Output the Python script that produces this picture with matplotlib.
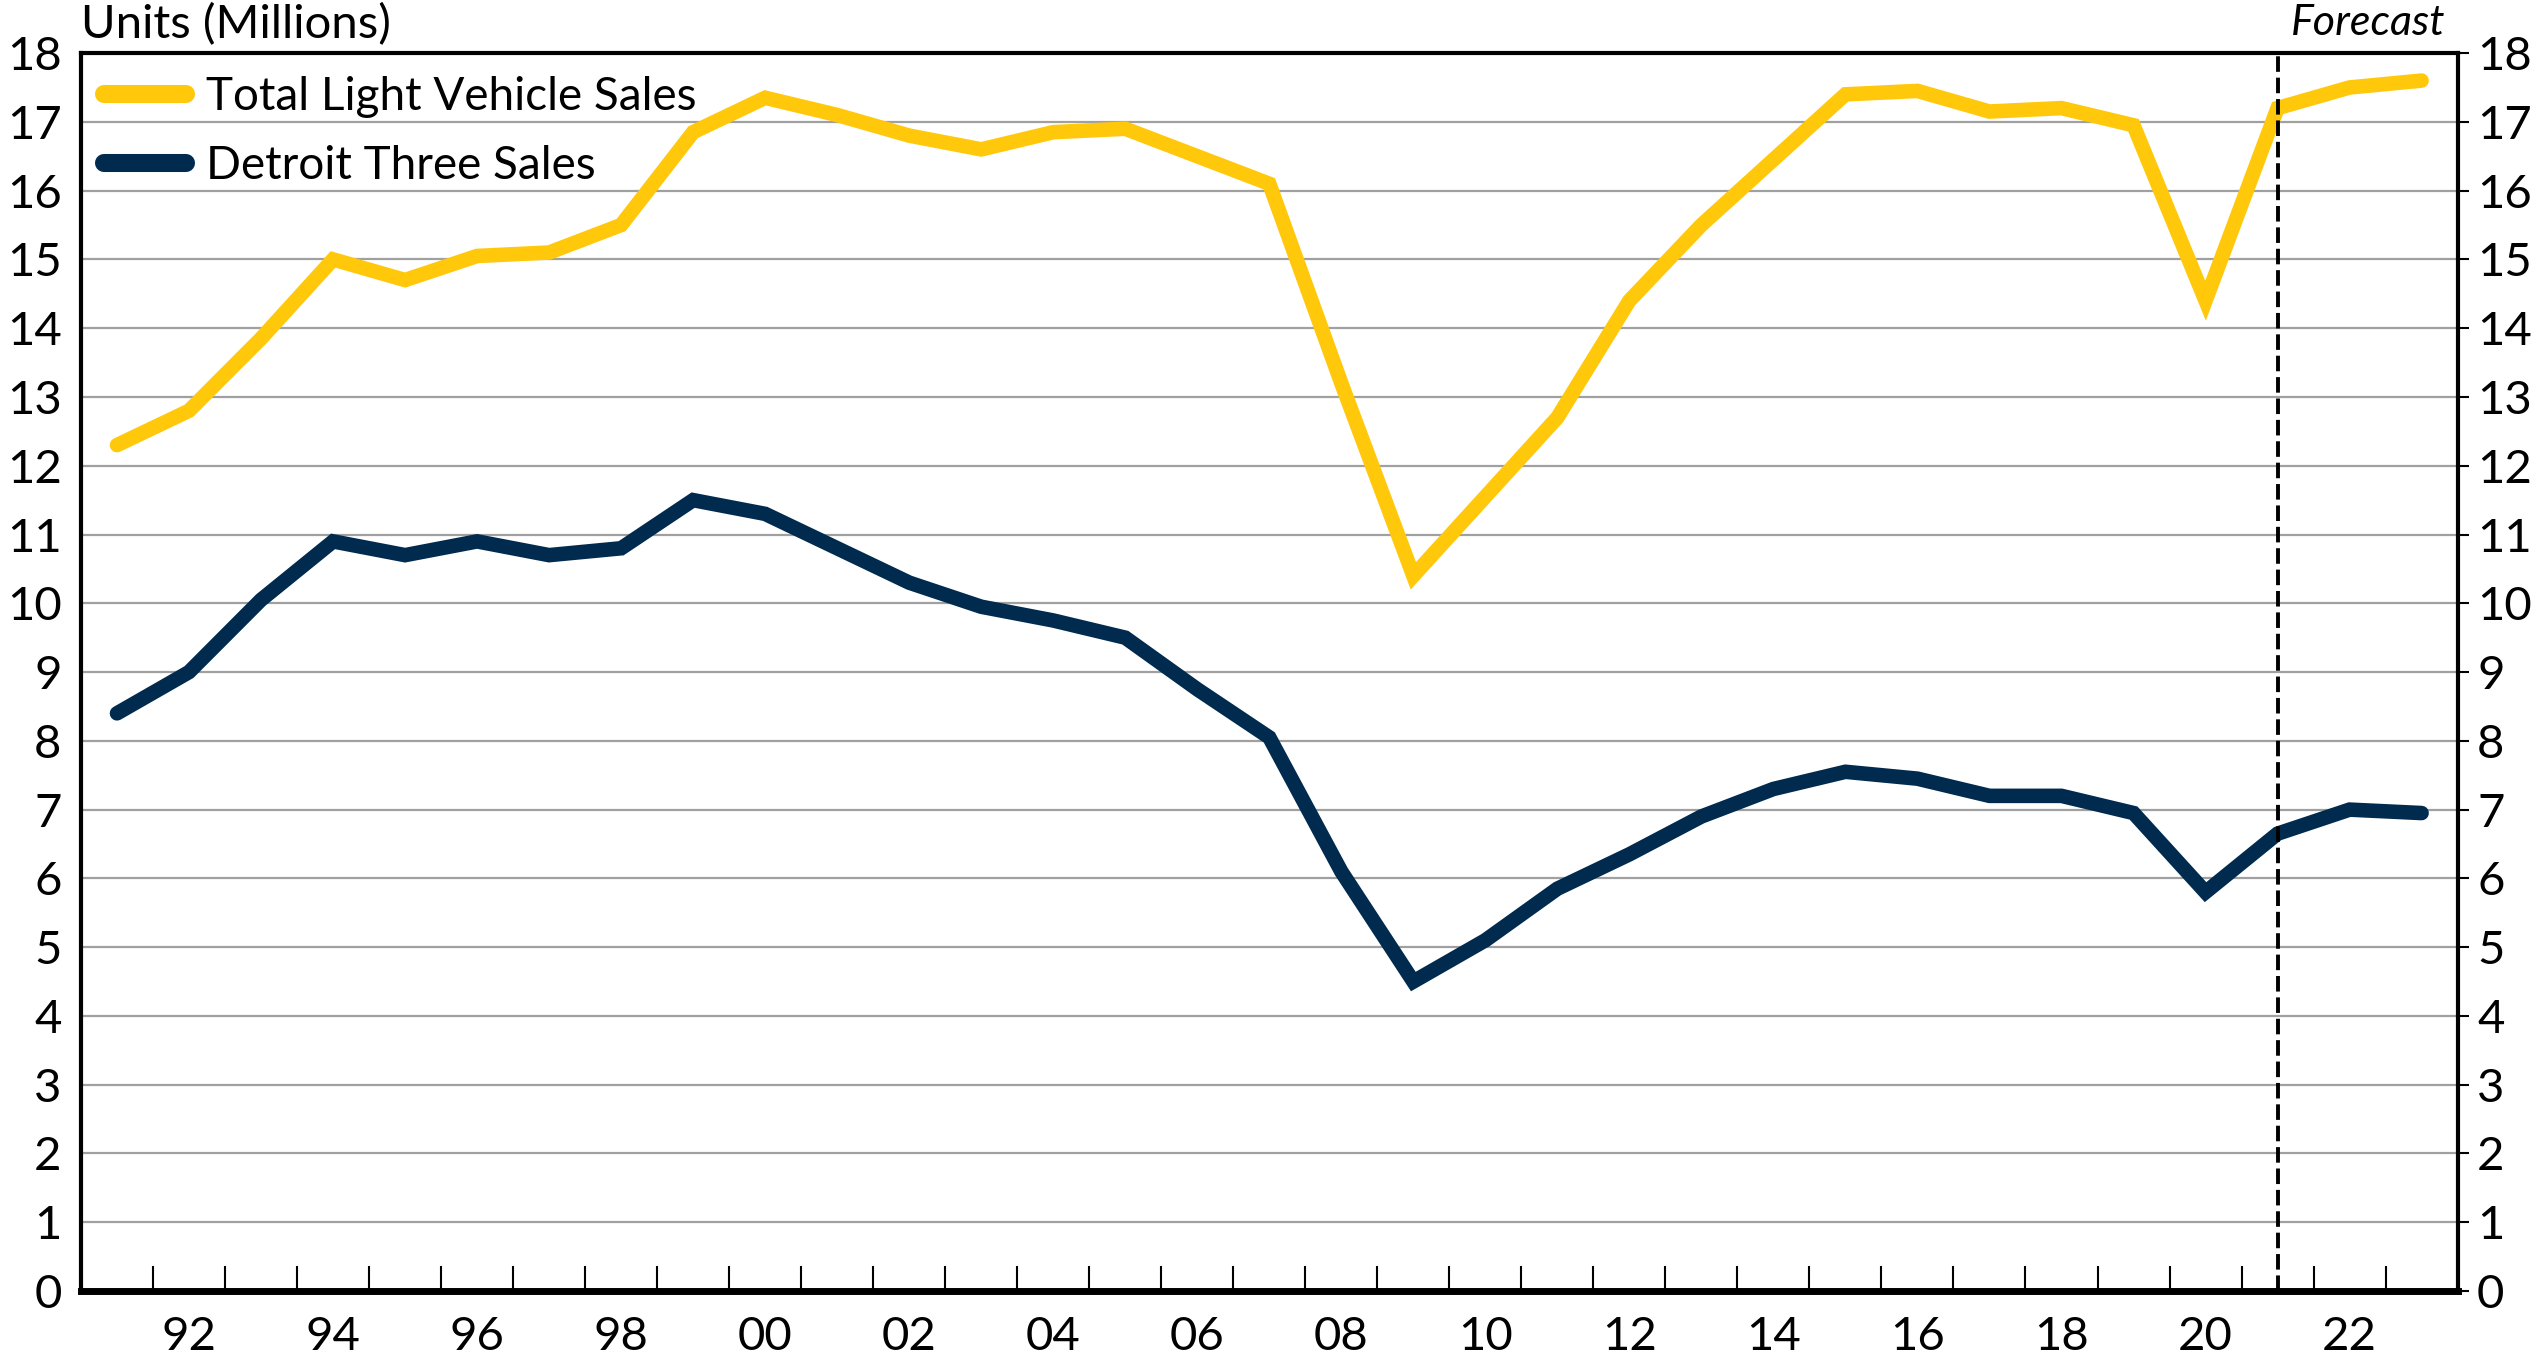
import matplotlib
matplotlib.use("Agg")
import matplotlib.pyplot as plt
from matplotlib.ticker import FixedLocator, NullFormatter

years = list(range(1991, 2024))
total_sales = [12.3, 12.8, 13.85, 15.0, 14.7, 15.05, 15.1, 15.5, 16.85, 17.35,
               17.1, 16.8, 16.6, 16.85, 16.9, 16.5, 16.1, 13.2, 10.4, 11.55,
               12.7, 14.4, 15.5, 16.45, 17.4, 17.45, 17.15, 17.2, 16.95, 14.4,
               17.2, 17.5, 17.6]
detroit_sales = [8.4, 9.0, 10.05, 10.9, 10.7, 10.9, 10.7, 10.8, 11.5, 11.3,
                 10.8, 10.3, 9.95, 9.75, 9.5, 8.75, 8.05, 6.1, 4.5, 5.1,
                 5.85, 6.35, 6.9, 7.3, 7.55, 7.45, 7.2, 7.2, 6.95, 5.8,
                 6.65, 7.0, 6.95]
year_labels = ["92", "94", "96", "98", "00", "02", "04", "06", "08", "10",
               "12", "14", "16", "18", "20", "22"]
label_years = list(range(1992, 2023, 2))
y_ticks = list(range(0, 19))
forecast_year = 2021

YELLOW = "#FFC80A"
NAVY = "#002A4E"
FONT = ["Lato", "DejaVu Sans"]
plt.rcParams["font.family"] = FONT

fig = plt.figure(figsize=(25.31, 13.61), dpi=100)
ax = fig.add_axes([0.032, 0.0514, 0.939, 0.9096])

ax.plot(years, total_sales, color=YELLOW, lw=10.5, solid_capstyle="round",
        solid_joinstyle="miter", label="Total Light Vehicle Sales", zorder=3)
ax.plot(years, detroit_sales, color=NAVY, lw=10.5, solid_capstyle="round",
        solid_joinstyle="miter", label="Detroit Three Sales", zorder=3)

ax.axvline(forecast_year, color="black", lw=2.8, ls=(0, (4, 1.5)), zorder=4)

ax.set_xlim(years[0] - 0.5, years[-1] + 0.5)
ax.set_ylim(0, 18)

ax.set_yticks(y_ticks)
ax.yaxis.grid(True, color="#A0A0A0", lw=1.6, zorder=0)
ax.set_axisbelow(True)
ax.tick_params(axis="y", which="both", left=False, right=True, labelleft=True,
               labelright=True, labelsize=34, length=8, width=1.5, direction="out",
               pad=6)

# x axis: ticks at category boundaries, labels at category centers
ax.set_xticks(label_years)
ax.set_xticklabels(year_labels)
ax.tick_params(axis="x", which="major", length=0, labelsize=34, pad=18)
ax.xaxis.set_minor_locator(FixedLocator([y + 0.5 for y in years[:-1]]))
ax.xaxis.set_minor_formatter(NullFormatter())
ax.tick_params(axis="x", which="minor", direction="in", length=18, width=1.5,
               bottom=True, top=False)

for side in ["left", "right", "top"]:
    ax.spines[side].set_linewidth(3)
ax.spines["bottom"].set_linewidth(5)

leg = ax.legend(loc="upper left", bbox_to_anchor=(0.0, 1.0), frameon=False,
                fontsize=33, handlelength=1.8, handletextpad=0.42,
                borderaxespad=0.15, borderpad=0.35, labelspacing=0.58)
for line in leg.get_lines():
    line.set_linewidth(13)
    line.set_solid_capstyle("round")

fig.text(0.032, 0.982, "Units (Millions)", fontsize=34, ha="left", va="center")
fig.text(0.966, 0.983, "Forecast", fontsize=31, ha="right", va="center",
         style="italic")

fig.savefig("out.png", dpi=100)
